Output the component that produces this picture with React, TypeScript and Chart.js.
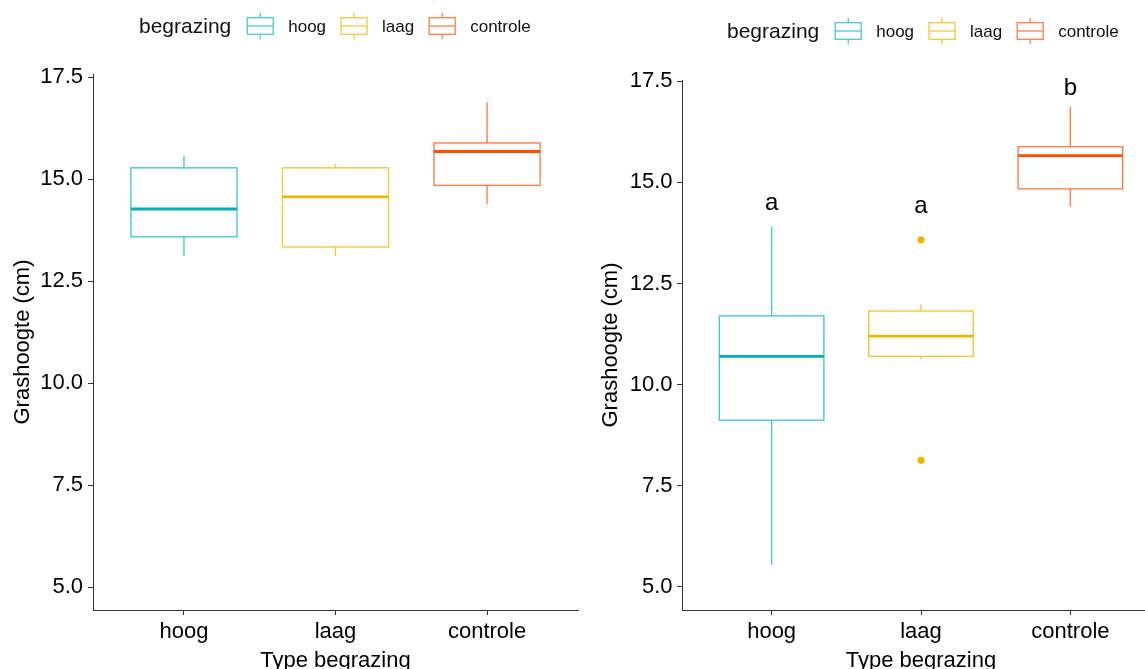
import React, { useEffect, useRef } from 'react';
import { Chart, registerables } from 'chart.js';

Chart.register(...registerables);

const FONT = '"Liberation Sans", Arial, Helvetica, sans-serif';

// Groups and their colours
const categories = ['hoog', 'laag', 'controle'];
const medianColors = ['#00AFBB', '#E7B800', '#FC4E07'];
const edgeColors = ['#4CC8D2', '#EFC941', '#FD7F4B'];
const legendTitle = 'begrazing';
const yTicks = [5, 7.5, 10, 12.5, 15, 17.5];

// Left panel: box statistics (cm)
const leftLow = [13.12, 13.12, 14.4];
const leftQ1 = [13.59, 13.34, 14.85];
const leftMedian = [14.27, 14.57, 15.68];
const leftQ3 = [15.28, 15.28, 15.89];
const leftHigh = [15.57, 15.38, 16.89];

// Right panel: box statistics (cm)
const rightLow = [5.54, 10.63, 14.4];
const rightQ1 = [9.12, 10.7, 14.84];
const rightMedian = [10.7, 11.2, 15.66];
const rightQ3 = [11.7, 11.82, 15.88];
const rightHigh = [13.9, 11.99, 16.87];
// Outliers of the "laag" group
const rightOutliersLaag = [13.58, 8.13];

// Significance letters and their baseline heights
const letters = ['a', 'a', 'b'];
const letterY = [14.32, 14.24, 17.16];

const BOX_WIDTH = 0.7;

const boxPlugin = {
  id: 'boxes',
  beforeDatasetsDraw(chart: any, _args: any, opts: any) {
    const { ctx } = chart;
    const x = chart.scales.x;
    const y = chart.scales.y;
    const half = BOX_WIDTH / 2;
    categories.forEach((_c, i) => {
      const cx = x.getPixelForValue(i + 1);
      const x0 = x.getPixelForValue(i + 1 - half);
      const x1 = x.getPixelForValue(i + 1 + half);
      const pLow = y.getPixelForValue(opts.low[i]);
      const pQ1 = y.getPixelForValue(opts.q1[i]);
      const pMed = y.getPixelForValue(opts.median[i]);
      const pQ3 = y.getPixelForValue(opts.q3[i]);
      const pHigh = y.getPixelForValue(opts.high[i]);
      ctx.save();
      ctx.strokeStyle = edgeColors[i];
      ctx.lineWidth = 1.4;
      ctx.beginPath();
      ctx.moveTo(cx, pHigh);
      ctx.lineTo(cx, pQ3);
      ctx.moveTo(cx, pQ1);
      ctx.lineTo(cx, pLow);
      ctx.stroke();
      ctx.strokeRect(x0, pQ3, x1 - x0, pQ1 - pQ3);
      ctx.strokeStyle = medianColors[i];
      ctx.lineWidth = 2.8;
      ctx.beginPath();
      ctx.moveTo(x0, pMed);
      ctx.lineTo(x1, pMed);
      ctx.stroke();
      ctx.restore();
    });
  },
};

const keyLegendPlugin = {
  id: 'keyLegend',
  afterDraw(chart: any, _args: any, opts: any) {
    const { ctx } = chart;
    const ty = opts.y;
    const m = ty - 1;
    ctx.save();
    ctx.textBaseline = 'middle';
    ctx.textAlign = 'left';
    ctx.fillStyle = '#111';
    ctx.font = `21px ${FONT}`;
    let px = opts.x;
    ctx.fillText(legendTitle, px, ty);
    px += ctx.measureText(legendTitle).width + 16;
    ctx.font = `17px ${FONT}`;
    categories.forEach((c, i) => {
      const w = 26;
      const cx = px + w / 2;
      ctx.strokeStyle = edgeColors[i];
      ctx.lineWidth = 1.3;
      ctx.beginPath();
      ctx.moveTo(cx, m - 13.3);
      ctx.lineTo(cx, m - 8.3);
      ctx.moveTo(cx, m + 8.3);
      ctx.lineTo(cx, m + 13.3);
      ctx.stroke();
      ctx.strokeRect(px, m - 8.3, w, 16.6);
      ctx.beginPath();
      ctx.moveTo(px, m);
      ctx.lineTo(px + w, m);
      ctx.stroke();
      px += w + 15;
      ctx.fillStyle = '#111';
      ctx.fillText(c, px, ty);
      px += ctx.measureText(c).width + 15;
    });
    ctx.restore();
  },
};

const lettersPlugin = {
  id: 'letters',
  afterDraw(chart: any, _args: any, opts: any) {
    if (!opts || !opts.labels) return;
    const { ctx } = chart;
    const x = chart.scales.x;
    const y = chart.scales.y;
    ctx.save();
    ctx.fillStyle = '#000';
    ctx.font = `24px ${FONT}`;
    ctx.textAlign = 'center';
    ctx.textBaseline = 'alphabetic';
    opts.labels.forEach((t: string, i: number) => {
      ctx.fillText(t, x.getPixelForValue(i + 1), y.getPixelForValue(opts.values[i]));
    });
    ctx.restore();
  },
};

interface PanelCfg {
  top: number;
  right: number;
  yWidth: number;
  xHeight: number;
  yMin: number;
  yMax: number;
  yTitlePad: number;
  tickPad: number;
  legendX: number;
  legendY: number;
  stats: any;
  outliers: { x: number; y: number }[];
  letters?: any;
}

function buildConfig(cfg: PanelCfg): any {
  const axisFont = { size: 22, family: FONT };
  return {
    type: 'scatter',
    data: {
      datasets: [
        {
          data: cfg.outliers,
          pointRadius: 3.6,
          pointBackgroundColor: medianColors[1],
          pointBorderColor: medianColors[1],
          pointBorderWidth: 0,
        },
      ],
    },
    options: {
      responsive: false,
      animation: false,
      devicePixelRatio: 1,
      layout: { padding: { top: cfg.top, right: cfg.right, left: 0, bottom: 0 } },
      scales: {
        x: {
          type: 'linear',
          min: 0.4,
          max: 3.6,
          afterBuildTicks: (s: any) => {
            s.ticks = categories.map((_c, i) => ({ value: i + 1 }));
          },
          afterFit: (s: any) => {
            s.height = cfg.xHeight;
          },
          ticks: {
            callback: (v: any) => categories[Math.round(Number(v)) - 1] ?? '',
            font: axisFont,
            color: '#000',
            padding: 4,
            maxRotation: 0,
            autoSkip: false,
          },
          grid: { display: true, drawOnChartArea: false, drawTicks: true, tickLength: 5, color: '#333' },
          border: { display: true, color: '#333', width: 1 },
          title: {
            display: true,
            text: 'Type begrazing',
            font: axisFont,
            color: '#000',
            padding: { top: 0, bottom: 16 },
          },
        },
        y: {
          type: 'linear',
          min: cfg.yMin,
          max: cfg.yMax,
          afterBuildTicks: (s: any) => {
            s.ticks = yTicks.map((v) => ({ value: v }));
          },
          afterFit: (s: any) => {
            s.width = cfg.yWidth;
          },
          ticks: {
            callback: (v: any) => Number(v).toFixed(1),
            font: axisFont,
            color: '#000',
            padding: cfg.tickPad,
          },
          grid: { display: true, drawOnChartArea: false, drawTicks: true, tickLength: 5, color: '#333' },
          border: { display: true, color: '#333', width: 1 },
          title: {
            display: true,
            text: 'Grashoogte (cm)',
            font: axisFont,
            color: '#000',
            padding: { top: cfg.yTitlePad, bottom: 0 },
          },
        },
      },
      plugins: {
        legend: { display: false },
        tooltip: { enabled: false },
        boxes: cfg.stats,
        keyLegend: { x: cfg.legendX, y: cfg.legendY },
        letters: cfg.letters ?? {},
      },
    },
    plugins: [boxPlugin, keyLegendPlugin, lettersPlugin],
  };
}

const leftCfg: PanelCfg = {
  top: 74,
  right: 12,
  yWidth: 93,
  xHeight: 80,
  yMin: 4.44,
  yMax: 17.58,
  yTitlePad: 9.5,
  tickPad: 5,
  legendX: 139,
  legendY: 27,
  stats: { low: leftLow, q1: leftQ1, median: leftMedian, q3: leftQ3, high: leftHigh },
  outliers: [],
};

const rightCfg: PanelCfg = {
  top: 80,
  right: 30,
  yWidth: 92,
  xHeight: 80,
  yMin: 4.43,
  yMax: 17.53,
  yTitlePad: 8,
  tickPad: 4.5,
  legendX: 137,
  legendY: 32,
  stats: { low: rightLow, q1: rightQ1, median: rightMedian, q3: rightQ3, high: rightHigh },
  outliers: rightOutliersLaag.map((v) => ({ x: 2, y: v })),
  letters: { labels: letters, values: letterY },
};

function Panel({ cfg, left, width }: { cfg: PanelCfg; left: number; width: number }) {
  const ref = useRef<HTMLCanvasElement | null>(null);
  useEffect(() => {
    if (!ref.current) return;
    const chart = new Chart(ref.current, buildConfig(cfg));
    return () => chart.destroy();
  }, [cfg]);
  return (
    <canvas
      ref={ref}
      width={width}
      height={690}
      style={{ position: 'absolute', left, top: 0, width, height: 690 }}
    />
  );
}

export default function App() {
  return (
    <div
      style={{
        position: 'fixed',
        left: 0,
        top: 0,
        width: 1145,
        height: 669,
        overflow: 'hidden',
        background: '#fff',
      }}
    >
      <Panel cfg={leftCfg} left={0} width={590} />
      <Panel cfg={rightCfg} left={590} width={600} />
    </div>
  );
}
